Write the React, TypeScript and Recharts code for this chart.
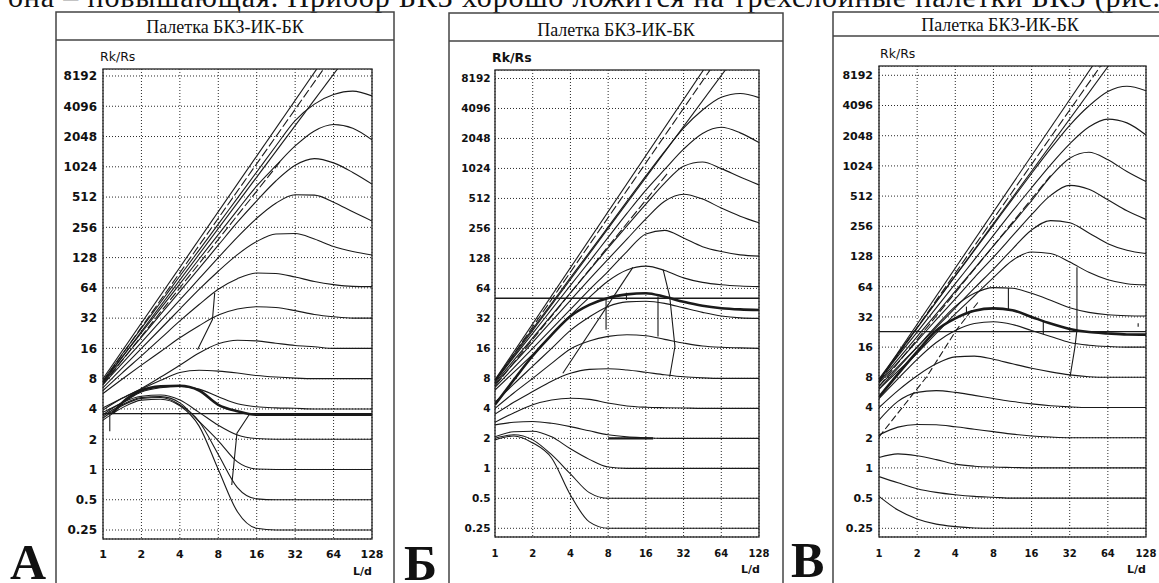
import React from 'react';
import { LineChart, Line, XAxis, YAxis, CartesianGrid } from 'recharts';

// ---------- shared axes ----------
const X_GRID = [1, 1.41, 2, 2.83, 4, 5.66, 8, 11.3, 16, 22.6, 32, 45.3, 64, 90.5, 128];
const X_TICKS = [1, 2, 4, 8, 16, 32, 64, 128];
const Y_TICKS = [0.25, 0.5, 1, 2, 4, 8, 16, 32, 64, 128, 256, 512, 1024, 2048, 4096, 8192];
const TITLE = 'Палетка БКЗ-ИК-БК';
const Y_NAME = 'Rk/Rs';
const X_NAME = 'L/d';
const TOP_LINE = 'она – повышающая. Прибор БКЗ хорошо ложится на трехслойные палетки БКЗ (рис.';
const LETTERS = ['А', 'Б', 'В'];

// ---------- panel A ----------
const A_RT_1 = [7.7, 14, 25.5, 46, 84, 152, 276, 500, 910, 1650, 2950, 4300, 5350, 5790, 5190];
const A_RT_2 = [7.5, 13.1, 22.9, 40, 70, 124, 217, 380, 660, 1050, 1650, 2330, 2700, 2480, 1900];
const A_RT_3 = [7.2, 12.2, 20.7, 35, 59, 100, 170, 288, 470, 740, 1060, 1235, 1120, 900, 690];
const A_RT_4 = [7, 11.3, 18.4, 30, 48.5, 79, 128, 205, 315, 445, 540, 535, 455, 365, 296];
const A_RT_5 = [6.5, 10.2, 16, 25.1, 39.4, 61.8, 93.7, 137, 185, 220, 222, 196, 165, 147, 136];
const A_RT_6 = [6.1, 9.1, 13.5, 20.1, 30, 43.7, 62, 79, 90, 89, 82, 74, 69, 66.3, 65.8];
const A_RT_7 = [5.7, 7.9, 10.9, 14.9, 20.4, 26.9, 34.3, 39.4, 41.6, 40.8, 38, 34.8, 33, 32, 32];
const A_RT_8 = [4.1, 5.1, 6.4, 8.3, 10.9, 14.4, 17.8, 19.3, 19, 18, 17.1, 16.6, 16, 16, 16];
const A_RT_9 = [3.9, 5.1, 6.3, 7.7, 9.2, 9.7, 9.5, 9.1, 8.6, 8.3, 8.1, 8, 8, 8, 8];
const A_RT_10 = [3.7, 4.6, 5.9, 6.5, 6.7, 6.3, 5.3, 4.5, 4.2, 4.1, 4.06, 4, 4, 4, 4];
const A_RT_11 = [3.5, 4.6, 5.35, 5.5, 4.9, 3.7, 2.75, 2.2, 2.03, 2, 2, 2, 2, 2, 2];
const A_RT_12 = [3.4, 4.4, 5.2, 5.3, 4.6, 3.0, 1.93, 1.19, 1.01, 1, 1, 1, 1, 1, 1];
const A_RT_13 = [3.25, 4.3, 5.1, 5.2, 4.4, 3.0, 1.41, 0.66, 0.51, 0.5, 0.5, 0.5, 0.5, 0.5, 0.5];
const A_RT_14 = [3.1, 4.1, 4.9, 5.0, 4.3, 2.7, 1.0, 0.38, 0.26, 0.25, 0.25, 0.25, 0.25, 0.25, 0.25];
const A_MEASURED = [[1.19, 3.6], [1.41, 4.6], [2, 6.1], [2.83, 6.7], [4, 6.8], [5.66, 6.1], [8, 4.4], [11.3, 3.8], [16, 3.5], [128, 3.5]];
const A_LEVEL = [[1, 3.6], [128, 3.6]];
const A_ENV_1 = [[1, 8], [48.5, 10085]];
const A_ENV_2 = [[1, 7.46], [55.7, 10370]];
const A_ENV_3 = [[1, 7.26], [73.5, 10809]];
const A_ENV_4 = [[1, 7], [24.3, 1144]];
const A_LINK_1 = [[1.13, 3.8], [1.13, 2.4]];
const A_LINK_2 = [[14.2, 3.63], [11.2, 2.3], [10.2, 0.7]];
const A_LINK_3 = [[7.5, 57], [7.2, 31], [5.5, 15.5]];

// ---------- panel Б ----------
const B_RT_1 = [7.7, 13.9, 25.1, 45.3, 82, 147, 265, 478, 861, 1520, 2600, 3950, 5300, 5790, 5260];
const B_RT_2 = [7.5, 13, 22.6, 39.4, 68.6, 119, 208, 362, 620, 1000, 1600, 2300, 2650, 2330, 1860];
const B_RT_3 = [7.2, 12.1, 20.4, 34.3, 57.7, 97, 163, 272, 450, 730, 1080, 1190, 1020, 840, 700];
const B_RT_4 = [7, 11.3, 18.4, 30, 48.5, 79, 126, 200, 320, 480, 565, 505, 410, 340, 292];
const B_RT_5 = [6.5, 10.2, 16, 25.1, 39.4, 61.8, 95, 150, 225, 245, 205, 168, 150, 139, 135];
const B_RT_6 = [6.1, 9.2, 13.9, 21.9, 34.3, 52, 76, 98, 107, 97, 81.6, 73.5, 69.6, 67.6, 66.7];
const B_RT_7 = [4.6, 7, 10.6, 16, 24.3, 33.1, 42.2, 46.9, 47.5, 45.3, 40.8, 36.8, 33.8, 32.4, 32];
const B_RT_8 = [4, 5.7, 8, 11.3, 15.8, 19, 21.1, 21.9, 21.4, 19.7, 18.1, 16.9, 16.4, 16.2, 16];
const B_RT_9 = [3.5, 4.6, 5.9, 7.5, 9, 9.85, 10, 9.7, 9.2, 8.7, 8.3, 8.1, 8, 8, 8];
const B_RT_10 = [2.9, 3.6, 4.35, 4.86, 5.06, 4.92, 4.53, 4.23, 4.11, 4.06, 4.03, 4, 4, 4, 4];
const B_RT_11 = [2.73, 2.9, 2.95, 2.83, 2.62, 2.38, 2.17, 2.07, 2.03, 2, 2, 2, 2, 2, 2];
const B_RT_12 = [2.07, 2.33, 2.36, 2.07, 1.57, 1.23, 1.03, 1, 1, 1, 1, 1, 1, 1, 1];
const B_RT_13 = [2, 2.17, 1.93, 1.37, 0.88, 0.57, 0.5, 0.5, 0.5, 0.5, 0.5, 0.5, 0.5, 0.5, 0.5];
const B_RT_14 = [1.93, 2.11, 1.8, 1.27, 0.54, 0.29, 0.25, 0.25, 0.25, 0.25, 0.25, 0.25, 0.25, 0.25, 0.25];
const B_MEASURED = [4.35, 7.7, 13.5, 21.9, 33.6, 43.7, 51.3, 55.7, 57.3, 52.7, 46.9, 42.8, 40.5, 39.4, 38.9];
const B_LEVEL = [[1, 51], [128, 51]];
const B_BOLD = [[8, 2], [18.3, 2]];
const B_ENV_1 = [[1, 7.73], [48.5, 10960]];
const B_ENV_2 = [[1, 7.46], [55.7, 11270]];
const B_ENV_3 = [[1, 7.46], [73.5, 11110]];
const B_ENV_4 = [[1, 6.73], [24.3, 942]];
const B_LINK_1 = [[3.48, 9], [12.6, 104]];
const B_LINK_2 = [[22, 98], [24.8, 53], [27.3, 16.7], [24.8, 8.3]];
const B_LINK_3 = [[7.7, 51], [7.7, 24.6]];
const B_LINK_4 = [[20, 53], [20, 21]];
const B_LINK_5 = [[11.2, 58], [11.2, 49]];

// ---------- panel В ----------
const C_RT_1 = [7.7, 13.9, 25.1, 45.3, 82, 147, 265, 478, 861, 1520, 2600, 4050, 5650, 6380, 5750];
const C_RT_2 = [7.5, 13, 22.6, 39.4, 68.6, 119, 208, 362, 620, 1050, 1700, 2500, 3000, 2750, 2080];
const C_RT_3 = [7.2, 12.1, 20.4, 34.3, 57.7, 97, 163, 272, 460, 800, 1220, 1400, 1180, 900, 714];
const C_RT_4 = [7, 11.3, 18.4, 30, 48.5, 79, 126, 205, 335, 520, 655, 600, 470, 365, 300];
const C_RT_5 = [6.5, 10.2, 16, 25.1, 39.4, 61.8, 96, 152, 235, 292, 278, 220, 172, 148, 137];
const C_RT_6 = [6.1, 9.2, 13.9, 21.9, 34.3, 52, 79, 117, 142, 137, 113, 89, 75, 68.6, 66.7];
const C_RT_7 = [6.1, 9.85, 16, 26, 40.8, 55, 62.7, 61.8, 55, 46.9, 39.4, 35.5, 33.6, 32.9, 32.7];
const C_RT_8 = [4.9, 7.7, 12.1, 17.8, 23.4, 27.5, 28.6, 26.9, 23.4, 20.4, 17.8, 16.7, 16.2, 16, 16];
const C_RT_9 = [4, 5.9, 8.3, 10.9, 12.8, 13, 12.1, 10.9, 9.85, 9.06, 8.46, 8.11, 8, 8, 8];
const C_RT_10 = [3, 4.6, 5.66, 5.9, 5.66, 5.28, 4.92, 4.59, 4.35, 4.17, 4.06, 4, 4, 4, 4];
const C_RT_11 = [2.13, 2.55, 2.71, 2.69, 2.57, 2.43, 2.3, 2.17, 2.08, 2.03, 2, 2, 2, 2, 2];
const C_RT_12 = [1.27, 1.38, 1.32, 1.21, 1.09, 1.04, 1.02, 1.01, 1, 1, 1, 1, 1, 1, 1];
const C_RT_13 = [0.82, 0.71, 0.62, 0.57, 0.54, 0.52, 0.51, 0.5, 0.5, 0.5, 0.5, 0.5, 0.5, 0.5, 0.5];
const C_RT_14 = [0.52, 0.38, 0.31, 0.275, 0.26, 0.252, 0.25, 0.25, 0.25, 0.25, 0.25, 0.25, 0.25, 0.25, 0.25];
const C_MEASURED = [5.1, 8.6, 14.4, 23.4, 30.9, 36.8, 38.9, 37.3, 32, 27.5, 24.3, 22.6, 21.9, 21.4, 21.3];
const C_LEVEL = [[1, 22.8], [128, 22.8]];
const C_ENV_1 = [[1, 7.46], [52, 11585]];
const C_ENV_2 = [[1, 7.2], [59.7, 11350]];
const C_ENV_3 = [[1, 7.46], [73.5, 12680]];
const C_ENV_4 = [[1, 6.5], [22.6, 820]];
const C_DASH = [[1, 2.04], [2.38, 8.1], [4.08, 23.7], [6.06, 45]];
const C_LINK_1 = [[36.5, 100], [36.5, 23.8], [35.2, 16.1], [32.2, 8.1]];
const C_LINK_2 = [[10.5, 62], [10.5, 38]];
const C_LINK_3 = [[19.8, 29], [19.8, 21.5]];
const C_LINK_4 = [[4.9, 40.5], [4.9, 34.8]];
const C_LINK_5 = [[111, 27.7], [111, 25.6]];

// ---------- helpers ----------
type Pt = { x: number; y: number };
type S = { pts: Pt[]; w: number; dash?: string; kind: 'monotone' | 'linear' };
const onGrid = (ys: number[]): Pt[] => X_GRID.map((x, i) => ({ x, y: ys[i] }));
const fromPairs = (ps: number[][]): Pt[] => ps.map(([x, y]) => ({ x, y }));
const curve = (ys: number[], w = 1.1): S => ({ pts: onGrid(ys), w, kind: 'monotone' });
const pcurve = (ps: number[][], w = 1.1): S => ({ pts: fromPairs(ps), w, kind: 'monotone' });
const seg = (ps: number[][], w = 1.1, dash?: string): S => ({ pts: fromPairs(ps), w, dash, kind: 'linear' });

const FRAME = '#444';
const INK = '#1a1a1a';
const RIGHT_PAD = 16;

const PANELS = [
  {
    plotLeft: 103, plotTop: 69, plotW: 269, plotH: 470, yDomain: [0.2035, 9615],
    yFont: 12, xFont: 11, yMargin: 6, xBase: 19,
    frameL: 56, frameR: 394, frameT: 12, titleB: 40, titleBase: 33,
    nameY: [100, 61, false], nameX: [372, 575], letter: [10, 579],
    series: [
      seg(A_ENV_1), seg(A_ENV_2, 1.1, '9 3'), seg(A_ENV_3), seg(A_ENV_4, 1.1, '9 3'),
      curve(A_RT_1), curve(A_RT_2), curve(A_RT_3), curve(A_RT_4), curve(A_RT_5), curve(A_RT_6), curve(A_RT_7),
      curve(A_RT_8), curve(A_RT_9), curve(A_RT_10), curve(A_RT_11), curve(A_RT_12), curve(A_RT_13), curve(A_RT_14),
      seg(A_LEVEL, 1.3), pcurve(A_MEASURED, 2.6),
      seg(A_LINK_1), seg(A_LINK_2), seg(A_LINK_3),
    ] as S[],
  },
  {
    plotLeft: 495, plotTop: 70, plotW: 264, plotH: 467, yDomain: [0.2045, 9967],
    yFont: 10.5, xFont: 10, yMargin: 4.5, xBase: 20,
    frameL: 449, frameR: 783, frameT: 13, titleB: 41, titleBase: 36,
    nameY: [492, 62, true], nameX: [760, 573], letter: [404, 580],
    series: [
      seg(B_ENV_1), seg(B_ENV_2, 1.1, '9 3'), seg(B_ENV_3), seg(B_ENV_4, 1.1, '9 3'),
      curve(B_RT_1), curve(B_RT_2), curve(B_RT_3), curve(B_RT_4), curve(B_RT_5), curve(B_RT_6), curve(B_RT_7),
      curve(B_RT_8), curve(B_RT_9), curve(B_RT_10), curve(B_RT_11), curve(B_RT_12), curve(B_RT_13), curve(B_RT_14),
      seg(B_LEVEL, 1.3), curve(B_MEASURED, 2.6), seg(B_BOLD, 2.4),
      seg(B_LINK_1), seg(B_LINK_2), seg(B_LINK_3), seg(B_LINK_4), seg(B_LINK_5),
    ] as S[],
  },
  {
    plotLeft: 879, plotTop: 66, plotW: 267, plotH: 471, yDomain: [0.2048, 10143],
    yFont: 11, xFont: 10, yMargin: 6, xBase: 20,
    frameL: 833, frameR: 1167, frameT: 12, titleB: 36, titleBase: 31,
    nameY: [880, 58, false], nameX: [1146, 573], letter: [791, 577],
    series: [
      seg(C_ENV_1), seg(C_ENV_2, 1.1, '9 3'), seg(C_ENV_3), seg(C_ENV_4, 1.1, '9 3'), seg(C_DASH, 1.1, '7 3'),
      curve(C_RT_1), curve(C_RT_2), curve(C_RT_3), curve(C_RT_4), curve(C_RT_5), curve(C_RT_6), curve(C_RT_7),
      curve(C_RT_8), curve(C_RT_9), curve(C_RT_10), curve(C_RT_11), curve(C_RT_12), curve(C_RT_13), curve(C_RT_14),
      seg(C_LEVEL, 1.3), curve(C_MEASURED, 2.6),
      seg(C_LINK_1), seg(C_LINK_2), seg(C_LINK_3), seg(C_LINK_4), seg(C_LINK_5),
    ] as S[],
  },
];

function Panel({ cfg }: { cfg: any }) {
  const { plotLeft, plotTop, plotW, plotH, yDomain, yFont, xFont, yMargin, xBase, series } = cfg;
  const yTick = (p: any) => (
    <text x={p.x} y={p.y} dy="0.36em" textAnchor="end" fontFamily="DejaVu Sans" fontWeight="bold" fontSize={yFont} fill="#111">
      {String(p.payload.value)}
    </text>
  );
  const xTick = (p: any) => (
    <text x={p.x} y={p.y + xBase} textAnchor="middle" fontFamily="DejaVu Sans" fontWeight="bold" fontSize={xFont} fill="#111">
      {String(p.payload.value)}
    </text>
  );
  return (
    <div style={{ position: 'absolute', left: plotLeft - 50, top: plotTop }}>
      <LineChart width={plotW + 50 + RIGHT_PAD} height={plotH + 40} margin={{ top: 0, right: RIGHT_PAD, bottom: 0, left: 0 }}>
        <CartesianGrid stroke="#2a2a2a" strokeDasharray="1 2" strokeWidth={1} />
        <XAxis dataKey="x" type="number" scale="log" domain={[1, 128]} ticks={X_TICKS} allowDataOverflow interval={0}
          height={40} axisLine={false} tickLine={false} tickSize={0} tickMargin={0} tick={xTick} />
        <YAxis type="number" scale="log" domain={yDomain} ticks={Y_TICKS} allowDataOverflow interval={0}
          width={50} axisLine={false} tickLine={false} tickSize={0} tickMargin={yMargin} tick={yTick} />
        {series.map((s: S, i: number) => (
          <Line key={i} data={s.pts} dataKey="y" type={s.kind} stroke={INK} strokeWidth={s.w}
            strokeDasharray={s.dash} dot={false} activeDot={false} isAnimationActive={false} />
        ))}
      </LineChart>
    </div>
  );
}

export default function App() {
  return (
    <div style={{ position: 'absolute', left: 0, top: 0, width: 1159, height: 583, overflow: 'hidden', background: '#fff' }}>
      <svg width={1159} height={583} style={{ position: 'absolute', left: 0, top: 0 }}>
        <text x={8} y={7} fontFamily="Liberation Serif" fontSize={30} fill="#111" textLength={1152} lengthAdjust="spacing">
          {TOP_LINE}
        </text>
        {PANELS.map((p, i) => (
          <g key={i}>
            <rect x={p.frameL} y={p.frameT} width={p.frameR - p.frameL} height={640} fill="none" stroke={FRAME} strokeWidth={1.5} />
            <line x1={p.frameL} x2={p.frameR} y1={p.titleB} y2={p.titleB} stroke={FRAME} strokeWidth={1.5} />
            <text x={(p.frameL + p.frameR) / 2} y={p.titleBase} textAnchor="middle" fontFamily="Liberation Serif" fontSize={18} fill="#111">
              {TITLE}
            </text>
            <text x={p.nameY[0] as number} y={p.nameY[1] as number} fontFamily="DejaVu Sans" fontSize={12.5}
              fontWeight={p.nameY[2] ? 'bold' : 'normal'} fill="#111">{Y_NAME}</text>
            <text x={p.nameX[0]} y={p.nameX[1]} textAnchor="end" fontFamily="DejaVu Sans" fontWeight="bold" fontSize={11} fill="#111">
              {X_NAME}
            </text>
            <rect x={p.plotLeft} y={p.plotTop} width={p.plotW} height={p.plotH} fill="none" stroke="#222" strokeWidth={1.3} />
            <text x={p.letter[0]} y={p.letter[1]} fontFamily="Liberation Serif" fontWeight="bold" fontSize={50} fill="#111">
              {LETTERS[i]}
            </text>
          </g>
        ))}
      </svg>
      {PANELS.map((p, i) => <Panel key={i} cfg={p} />)}
    </div>
  );
}
